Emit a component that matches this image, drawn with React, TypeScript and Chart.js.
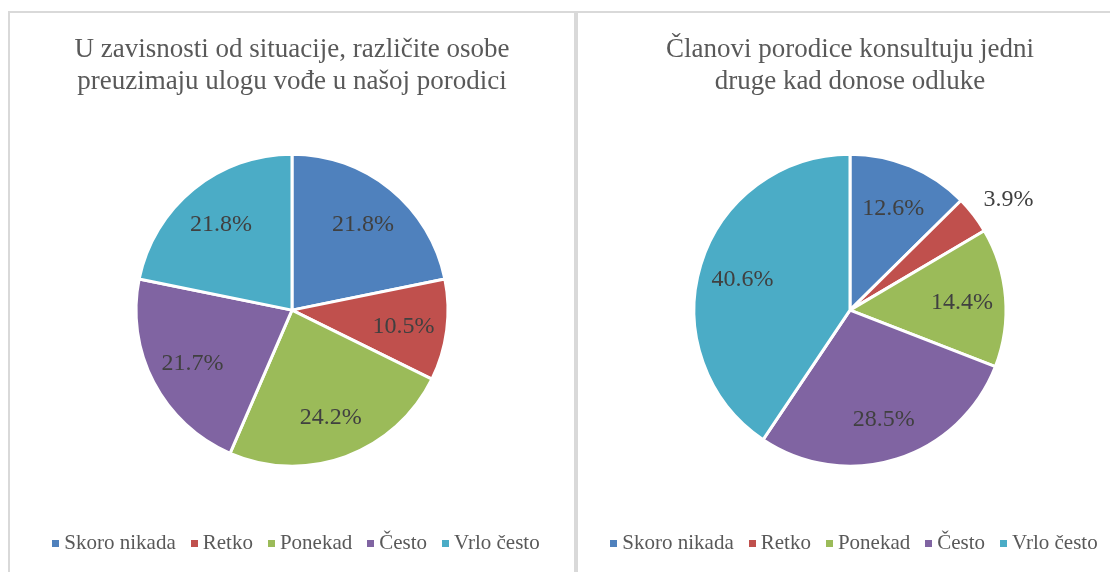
import React, { useEffect, useRef } from "react";
import { Chart, registerables } from "chart.js";

Chart.register(...registerables);

const categories = ["Skoro nikada", "Retko", "Ponekad", "Često", "Vrlo često"];
const leftTitle = ["U zavisnosti od situacije, različite osobe", "preuzimaju ulogu vođe u našoj porodici"];
const leftValues = [21.8, 10.5, 24.2, 21.7, 21.8];
const rightTitle = ["Članovi porodice konsultuju jedni", "druge kad donose odluke"];
const rightValues = [12.6, 3.9, 14.4, 28.5, 40.6];
const colors = ["#4F81BD", "#C0504D", "#9BBB59", "#8064A2", "#4BACC6"];

const FAMILY = "Liberation Serif";

const labelPlugin = {
  id: "sliceLabels",
  afterDatasetsDraw(chart: any) {
    const ctx = chart.ctx as CanvasRenderingContext2D;
    const meta = chart.getDatasetMeta(0);
    const data = chart.data.datasets[0].data as number[];
    const total = data.reduce((a, b) => a + b, 0);
    ctx.save();
    ctx.font = 'normal normal 24px "Liberation Serif"';
    ctx.fillStyle = "#404040";
    ctx.textAlign = "center";
    ctx.textBaseline = "middle";
    meta.data.forEach((el: any, i: number) => {
      const p = el.getProps(["x", "y", "startAngle", "endAngle", "outerRadius"], true);
      const mid = (p.startAngle + p.endAngle) / 2;
      const frac = data[i] / total;
      const text = data[i].toFixed(1) + "%";
      const cx = Math.cos(mid);
      const cy = Math.sin(mid);
      if (frac < 0.05) {
        // outside label: anchor just beyond the rim, box pushed outward
        const w = ctx.measureText(text).width;
        const r = p.outerRadius * 1.08;
        const x = p.x + cx * r + Math.sign(cx) * (w / 2);
        const y = p.y + cy * r + Math.sign(cy) * 8;
        ctx.fillText(text, x, y);
      } else {
        const r = p.outerRadius * 0.72;
        ctx.fillText(text, p.x + cx * r, p.y + cy * r + 2);
      }
    });
    ctx.restore();
  },
};

const legendPlugin = {
  id: "bottomLegend",
  afterDraw(chart: any) {
    const ctx = chart.ctx as CanvasRenderingContext2D;
    const labels = chart.data.labels as string[];
    const bg = chart.data.datasets[0].backgroundColor as string[];
    ctx.save();
    ctx.font = 'normal normal 21px "Liberation Serif"';
    const box = 7;
    const gapBT = 5;
    const gapItem = 15;
    const widths = labels.map((l) => ctx.measureText(l).width);
    const total = widths.reduce((a, w) => a + box + gapBT + w, 0) + gapItem * (labels.length - 1);
    let x = (chart.width - total) / 2 + 4;
    const baseline = chart.height - 23;
    ctx.textAlign = "left";
    ctx.textBaseline = "alphabetic";
    labels.forEach((l, i) => {
      ctx.fillStyle = bg[i];
      ctx.fillRect(Math.round(x), baseline - 9, box, box);
      x += box + gapBT;
      ctx.fillStyle = "#595959";
      ctx.fillText(l, x, baseline);
      x += widths[i] + gapItem;
    });
    ctx.restore();
  },
};

function PieChart({ title, values, width, height }: { title: string[]; values: number[]; width: number; height: number }) {
  const ref = useRef<HTMLCanvasElement>(null);
  useEffect(() => {
    const chart = new Chart(ref.current as HTMLCanvasElement, {
      type: "pie",
      data: {
        labels: categories,
        datasets: [
          {
            data: values,
            backgroundColor: colors,
            borderColor: "#ffffff",
            borderWidth: 3,
          },
        ],
      },
      options: {
        responsive: false,
        animation: false,
        events: [],
        radius: 156,
        layout: { padding: { top: 0, bottom: 51, left: 0, right: 0 } },
        plugins: {
          legend: { display: false },
          tooltip: { enabled: false },
          title: {
            display: true,
            text: title,
            color: "#595959",
            font: { family: `"${FAMILY}"`, size: 27, weight: "normal", lineHeight: 1.19 },
            padding: { top: 21, bottom: 1 },
          },
        },
      } as any,
      plugins: [labelPlugin, legendPlugin],
    });
    return () => chart.destroy();
  }, []);
  return <canvas ref={ref} width={width} height={height} style={{ display: "block" }} />;
}

export default function App() {
  const panel: React.CSSProperties = {
    position: "absolute",
    top: 11,
    height: 570,
    boxSizing: "border-box",
    border: "2px solid #D9D9D9",
    background: "#ffffff",
    overflow: "hidden",
  };
  return (
    <div style={{ position: "fixed", left: 0, top: 0, width: 1110, height: 572, overflow: "hidden", background: "#ffffff" }}>
      <div style={{ ...panel, left: 8, width: 568 }}>
        <PieChart title={leftTitle} values={leftValues} width={564} height={559} />
      </div>
      <div style={{ ...panel, left: 576, width: 548 }}>
        <PieChart title={rightTitle} values={rightValues} width={544} height={559} />
      </div>
    </div>
  );
}
